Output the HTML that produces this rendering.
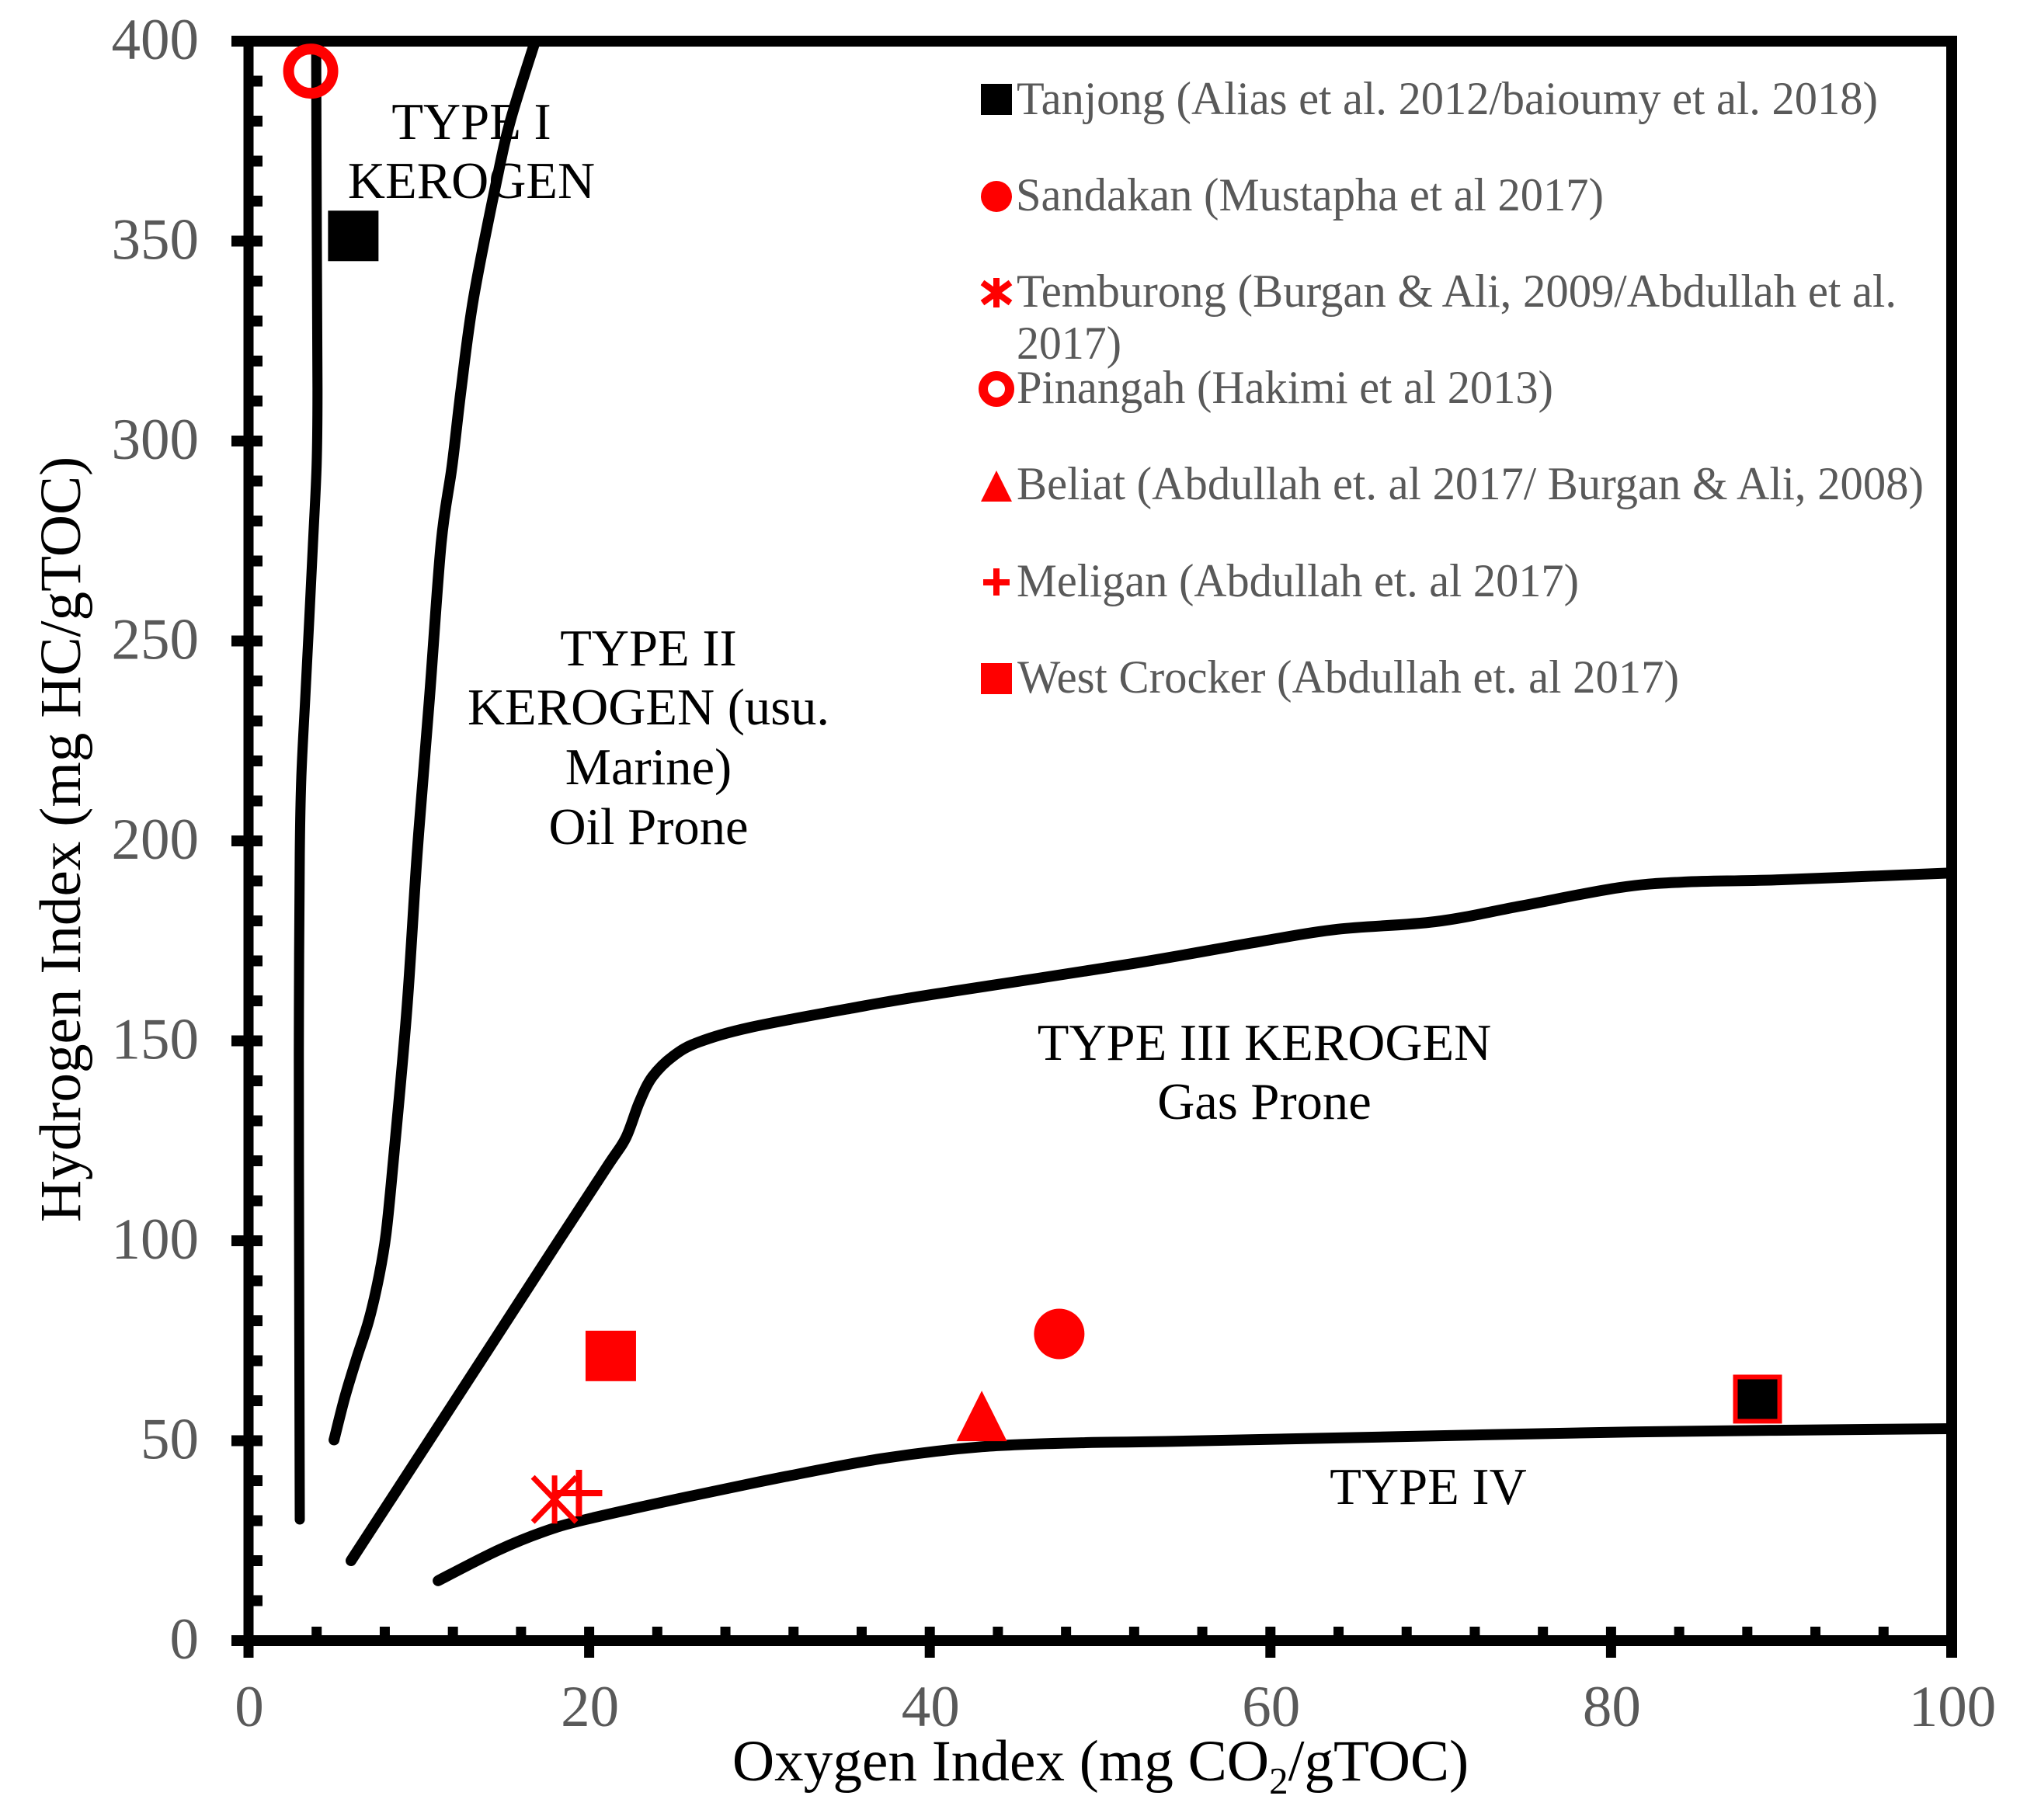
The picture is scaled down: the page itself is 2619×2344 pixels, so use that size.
<!DOCTYPE html>
<html lang="en">
<head>
<meta charset="utf-8">
<title>Hydrogen Index vs Oxygen Index kerogen chart</title>
<style>
html,body{margin:0;padding:0;background:#fff;width:2619px;height:2344px;overflow:hidden}
svg{position:absolute;left:0;top:0;display:block}
text{font-family:"Liberation Serif",serif}
.tick{font-size:75px;fill:#595959}
.title{font-size:75.2px;fill:#000}
.region{font-size:66.6px;fill:#000;text-anchor:middle}
.legend-text{font-size:60px;fill:#595959}
</style>
</head>
<body>
<svg id="chart" xmlns="http://www.w3.org/2000/svg" width="2619" height="2344" viewBox="0 0 2619 2344">
  <rect x="0" y="0" width="2619" height="2344" fill="#fff"/>
  <g id="axes"></g>
  <g id="curves"></g>
  <g id="markers"></g>

  <g>
    <text class="region" x="607" y="179">TYPE I</text>
    <text class="region" x="607" y="255">KEROGEN</text>
    <text class="region" x="835" y="857">TYPE II</text>
    <text class="region" x="835" y="933">KEROGEN (usu.</text>
    <text class="region" x="835" y="1010">Marine)</text>
    <text class="region" x="835" y="1087">Oil Prone</text>
    <text class="region" x="1628" y="1365">TYPE III KEROGEN</text>
    <text class="region" x="1628" y="1441">Gas Prone</text>
    <text class="region" x="1839" y="1937">TYPE IV</text>
  </g>

  <text class="title" x="1417" y="2293" text-anchor="middle">Oxygen Index (mg CO<tspan font-size="49" dy="17">2</tspan><tspan dy="-17">/gTOC)</tspan></text>
  <text class="title" transform="translate(103,1081) rotate(-90)" text-anchor="middle">Hydrogen Index (mg HC/gTOC)</text>

  <g>
    <g>
      <rect x="1263" y="108" width="40" height="40" fill="#000"/>
      <text class="legend-text" x="1309" y="147" textLength="1109" lengthAdjust="spacingAndGlyphs">Tanjong (Alias et al. 2012/baioumy et al. 2018)</text>
    </g>
    <g>
      <ellipse cx="1283" cy="253" rx="20" ry="20" fill="#f00"/>
      <text class="legend-text" x="1308" y="271" textLength="757" lengthAdjust="spacingAndGlyphs">Sandakan (Mustapha et al 2017)</text>
    </g>
    <g>
      <path d="M1283 358V396M1265 364L1301 390M1301 364L1265 390" stroke="#f00" stroke-width="8" fill="none"/>
      <text class="legend-text" x="1309" y="395" textLength="1133" lengthAdjust="spacingAndGlyphs">Temburong (Burgan &amp; Ali, 2009/Abdullah et al.</text>
      <text class="legend-text" x="1309" y="462" textLength="135" lengthAdjust="spacingAndGlyphs">2017)</text>
    </g>
    <g>
      <circle cx="1283" cy="501" r="17" fill="none" stroke="#f00" stroke-width="12"/>
      <text class="legend-text" x="1309" y="519" textLength="691" lengthAdjust="spacingAndGlyphs">Pinangah (Hakimi et al 2013)</text>
    </g>
    <g>
      <polygon points="1283,606 1303,646 1263,646" fill="#f00"/>
      <text class="legend-text" x="1309" y="643" textLength="1168" lengthAdjust="spacingAndGlyphs">Beliat (Abdullah et. al 2017/ Burgan &amp; Ali, 2008)</text>
    </g>
    <g>
      <path d="M1266 750H1300M1283 732V767" stroke="#f00" stroke-width="8" fill="none"/>
      <text class="legend-text" x="1309" y="768" textLength="724" lengthAdjust="spacingAndGlyphs">Meligan (Abdullah et. al 2017)</text>
    </g>
    <g>
      <rect x="1263" y="854" width="40" height="40" fill="#f00"/>
      <text class="legend-text" x="1310" y="892" textLength="852" lengthAdjust="spacingAndGlyphs">West Crocker (Abdullah et. al 2017)</text>
    </g>
  </g>
</svg>
<script>
const xTickLabels = [0, 20, 40, 60, 80, 100];
const yTickLabels = [0, 50, 100, 150, 200, 250, 300, 350, 400];

const leftCurveOI = [3.01, 2.96, 2.96, 3.01, 3.10, 3.33, 3.56, 3.78, 4.0, 4.05, 4.01, 3.97];
const leftCurveHI = [30.3, 119, 158, 196.7, 216, 235.5, 255, 274, 294, 313, 352, 400];

const typeICurveOI = [5.02, 5.65, 6.34, 7.07, 7.66, 8.07, 8.48, 9.30, 9.90, 10.62, 11.31, 11.95, 12.49, 13.22, 14.59, 15.41, 16.83];
const typeICurveHI = [50.2, 60.8, 70.5, 80.2, 91.1, 101.6, 119, 157.9, 196.7, 235.5, 274.4, 293.8, 313.2, 335.9, 365.6, 380.6, 400];

const typeIICurveOI = [6.02, 14.32, 18.24, 21.16, 22.16, 22.94, 23.71, 24.94, 26.45, 29.5, 35.57, 40.13, 51.62, 59.33, 63.93, 69.68, 74.69, 80.44, 84.27, 90.01, 100];
const typeIICurveHI = [20, 74.4, 100.2, 119.2, 125.8, 134.6, 141, 146.2, 149.7, 153.4, 158.3, 161.6, 169.1, 174.8, 177.9, 179.8, 183.7, 188.3, 189.7, 190.3, 192];

const typeIIICurveOI = [11.13, 14.6, 17.3, 19.8, 25.7, 31.5, 37.3, 43.1, 48.9, 53.8, 67.5, 81.2, 100];
const typeIIICurveHI = [15, 22.5, 27.2, 30.3, 35.9, 41, 45.6, 48.5, 49.5, 49.8, 51, 52.2, 53];

const tanjongOI = [6.15];
const tanjongHI = [351.3];
const sandakanOI = [47.6];
const sandakanHI = [76.7];
const temburongOI = [17.97];
const temburongHI = [35.3];
const pinangahOI = [3.65];
const pinangahHI = [392.5];
const beliatOI = [43.05];
const beliatHI = [56.2];
const meliganOI = [19.4];
const meliganHI = [36.9];
const westCrockerOI = [21.27];
const westCrockerHI = [71.2];
const outlinedOI = [88.6];
const outlinedHI = [60.4];

const SVG_NS = 'http://www.w3.org/2000/svg';
const sx = v => 320 + 21.93 * v;
const sy = v => 2113 - 5.15 * v;

function make(parent, tag, props) {
  const node = document.createElementNS(SVG_NS, tag);
  for (const k in props) node.setAttribute(k, props[k]);
  parent.appendChild(node);
  return node;
}

const axes = document.getElementById('axes');
const curves = document.getElementById('curves');
const markers = document.getElementById('markers');

function smoothPath(xs, ys) {
  const pts = xs.map((x, i) => [sx(x), sy(ys[i])]);
  let d = 'M' + pts[0][0].toFixed(1) + ' ' + pts[0][1].toFixed(1);
  for (let i = 0; i < pts.length - 1; i++) {
    const p0 = pts[Math.max(i - 1, 0)], p1 = pts[i], p2 = pts[i + 1], p3 = pts[Math.min(i + 2, pts.length - 1)];
    const c1x = p1[0] + (p2[0] - p0[0]) / 6, c1y = p1[1] + (p2[1] - p0[1]) / 6;
    const c2x = p2[0] - (p3[0] - p1[0]) / 6, c2y = p2[1] - (p3[1] - p1[1]) / 6;
    d += 'C' + [c1x, c1y, c2x, c2y, p2[0], p2[1]].map(n => n.toFixed(1)).join(' ');
  }
  return d;
}

/* Axis frame */
const frameLeft = make(axes, 'rect', {x: sx(0) - 6.5, y: 46, width: 13, height: 2089, fill: '#000'});


const frameRight = make(axes, 'rect', {x: sx(100) - 7, y: 46, width: 14, height: 2089, fill: '#000'});


const frameTop = make(axes, 'rect', {x: 298, y: sy(400) - 7, width: 2222, height: 14, fill: '#000'});


const frameBottom = make(axes, 'rect', {x: 298, y: sy(0) - 7, width: 2222, height: 14, fill: '#000'});



/* Y ticks */
yTickLabels.forEach(v => {
  const tick = make(axes, 'rect', {x: 298, y: sy(v) - 7, width: 40, height: 14, fill: '#000'});
  
  
  const label = make(axes, 'text', {x: 256, y: sy(v) + 23, 'text-anchor': 'end', class: 'tick'});
  label.textContent = v;
  
  
});
for (let v = 10; v < 400; v += 10) {
  if (v % 50 === 0) continue;
  const tick = make(axes, 'rect', {x: 320, y: sy(v) - 7, width: 18, height: 14, fill: '#000'});
  
  
}

/* X ticks */
xTickLabels.forEach(v => {
  const tick = make(axes, 'rect', {x: sx(v) - 6.5, y: 2095, width: 13, height: 40, fill: '#000'});
  
  
  const label = make(axes, 'text', {x: sx(v) + 1, y: 2223, 'text-anchor': 'middle', class: 'tick'});
  label.textContent = v;
  
  
});
for (let v = 4; v < 100; v += 4) {
  if (v % 20 === 0) continue;
  const tick = make(axes, 'rect', {x: sx(v) - 6.5, y: 2095, width: 13, height: 18, fill: '#000'});
  
  
}

/* Curves */
const curveStyle = w => ({fill: 'none', stroke: '#000', 'stroke-width': w, 'stroke-linecap': 'round', 'stroke-linejoin': 'round'});
const leftCurve = make(curves, 'path', Object.assign({d: smoothPath(leftCurveOI, leftCurveHI)}, curveStyle(13)));


const typeICurve = make(curves, 'path', Object.assign({d: smoothPath(typeICurveOI, typeICurveHI)}, curveStyle(14)));


const typeIICurve = make(curves, 'path', Object.assign({d: smoothPath(typeIICurveOI, typeIICurveHI)}, curveStyle(14)));


const typeIIICurve = make(curves, 'path', Object.assign({d: smoothPath(typeIIICurveOI, typeIIICurveHI)}, curveStyle(14)));



/* Markers */
tanjongOI.forEach((v, i) => {
  const m = make(markers, 'rect', {x: sx(v) - 32.5, y: sy(tanjongHI[i]) - 32.5, width: 65, height: 65, fill: '#000'});
  
  
});
sandakanOI.forEach((v, i) => {
  const m = make(markers, 'circle', {cx: sx(v), cy: sy(sandakanHI[i]), r: 32.5, fill: '#f00'});
  
  
});
temburongOI.forEach((v, i) => {
  const cx = sx(v), cy = sy(temburongHI[i]);
  const d = `M${cx} ${cy - 31}V${cy + 31}M${cx - 28} ${cy - 29}L${cx + 28} ${cy + 29}M${cx + 28} ${cy - 29}L${cx - 28} ${cy + 29}`;
  const m = make(markers, 'path', {d: d, fill: 'none', stroke: '#f00', 'stroke-width': 7});
  
  
});
pinangahOI.forEach((v, i) => {
  const m = make(markers, 'circle', {cx: sx(v), cy: sy(pinangahHI[i]), r: 28.5, fill: 'none', stroke: '#f00', 'stroke-width': 14});
  
  
});
beliatOI.forEach((v, i) => {
  const cx = sx(v), cy = sy(beliatHI[i]);
  const m = make(markers, 'polygon', {points: `${cx},${cy - 32.5} ${cx + 32.5},${cy + 32.5} ${cx - 32.5},${cy + 32.5}`, fill: '#f00'});
  
  
});
meliganOI.forEach((v, i) => {
  const cx = sx(v), cy = sy(meliganHI[i]);
  const m = make(markers, 'path', {d: `M${cx - 30} ${cy}H${cx + 30}M${cx} ${cy - 30}V${cy + 30}`, fill: 'none', stroke: '#f00', 'stroke-width': 8});
  
  
});
westCrockerOI.forEach((v, i) => {
  const m = make(markers, 'rect', {x: sx(v) - 32.5, y: sy(westCrockerHI[i]) - 32.5, width: 65, height: 65, fill: '#f00'});
  
  
});
outlinedOI.forEach((v, i) => {
  const m = make(markers, 'rect', {x: sx(v) - 28.5, y: sy(outlinedHI[i]) - 28.5, width: 57, height: 57, fill: '#000', stroke: '#f00', 'stroke-width': 6});
  
  
});
</script>
</body>
</html>
